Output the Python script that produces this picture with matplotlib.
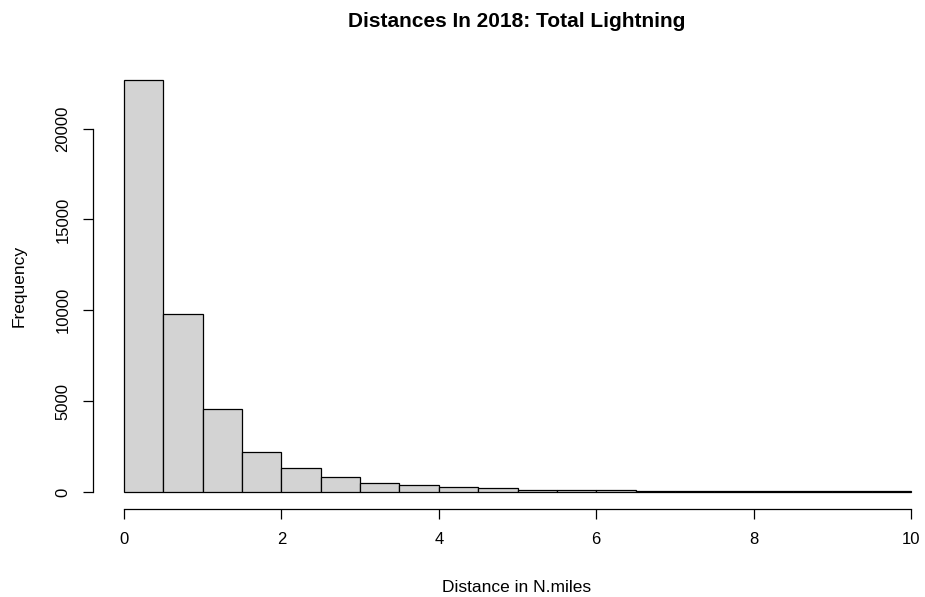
import matplotlib

matplotlib.use("Agg")
import matplotlib.pyplot as plt

plt.rcParams["font.family"] = ["Liberation Sans", "DejaVu Sans"]

# histogram breaks (0.5 N.mile bins) and counts
breaks = [0.0, 0.5, 1.0, 1.5, 2.0, 2.5, 3.0, 3.5, 4.0, 4.5, 5.0,
          5.5, 6.0, 6.5, 7.0, 7.5, 8.0, 8.5, 9.0, 9.5, 10.0]
counts = [22680, 9800, 4560, 2220, 1300, 800, 495, 365, 280, 240,
          110, 100, 90, 45, 42, 40, 38, 36, 35, 34]
x_ticks = [0, 2, 4, 6, 8, 10]
y_ticks = [0, 5000, 10000, 15000, 20000]

W, H = 925, 597
fig = plt.figure(figsize=(W / 100, H / 100), dpi=100)
fig.patch.set_facecolor("white")

# plot region like R's base graphics (4% padding on both axes)
left, right = 92.5, 942.5
top, bottom = 63.4, 508.5
ax = fig.add_axes([left / W, 1 - bottom / H, (right - left) / W, (bottom - top) / H])

widths = [b - a for a, b in zip(breaks[:-1], breaks[1:])]
ax.bar(breaks[:-1], counts, width=widths, align="edge",
       color="#D3D3D3", edgecolor="black", linewidth=0.9)

span_x = breaks[-1] - breaks[0]
ax.set_xlim(breaks[0] - 0.04 * span_x, breaks[-1] + 0.04 * span_x)
ymax = max(counts)
ax.set_ylim(-0.04 * ymax, ymax * 1.04)

for s in ["top", "right"]:
    ax.spines[s].set_visible(False)
ax.spines["left"].set_bounds(y_ticks[0], y_ticks[-1])
ax.spines["bottom"].set_bounds(x_ticks[0], x_ticks[-1])
for s in ["left", "bottom"]:
    ax.spines[s].set_linewidth(0.9)
    ax.spines[s].set_color("black")

ax.set_xticks(x_ticks)
ax.set_yticks(y_ticks)
ax.set_yticklabels([str(v) for v in y_ticks], rotation=90, va="center")
ax.tick_params(axis="both", direction="out", length=7, width=0.9,
               labelsize=12, colors="black")
ax.tick_params(axis="x", pad=10)
ax.tick_params(axis="y", pad=9)

fig.text(517 / W, 1 - 27 / H, "Distances In 2018: Total Lightning",
         ha="center", va="baseline", fontsize=15, fontweight="bold")
fig.text(517 / W, 1 - 592 / H, "Distance in N.miles", ha="center",
         va="baseline", fontsize=12.5)
fig.text(19 / W, 1 - 286 / H, "Frequency", ha="center", va="center",
         rotation=90, fontsize=12.5)

fig.savefig("out.png", dpi=100, facecolor="white")
